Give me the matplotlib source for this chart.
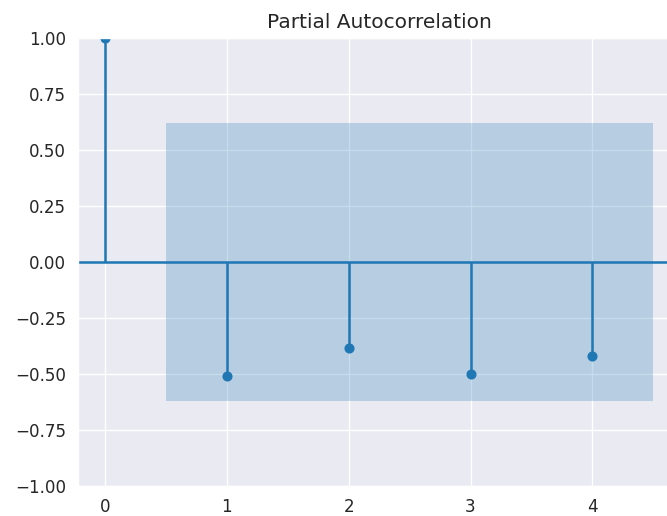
import numpy as np
import matplotlib
matplotlib.use('Agg')
import matplotlib.pyplot as plt
import seaborn as sns

# PACF 數值
lags = [0, 1, 2, 3, 4]
pacf_vals = [1.0, -0.507, -0.382, -0.501, -0.421]
conf_bound = 0.62   # 約 1.96/sqrt(10)

# 只設定 style，字體大小和顏色循環維持 matplotlib 預設
sns.set_style('darkgrid')

dpi = 121
fig = plt.figure(figsize=(667 / dpi, 516 / dpi), dpi=dpi)
# 原圖右側被裁掉，所以 axes 超出畫布
ax = fig.add_axes([0.1165, 0.058, 0.904, 0.869])

ax.vlines(lags, [0], pacf_vals, color='C0')
ax.plot(lags, pacf_vals, marker='o', markersize=5, linestyle='None', color='C0')
ax.axhline(0, color='C0')

# 信賴區間
band_x = np.array(lags[1:], dtype=float)
band_x[0] -= 0.5
band_x[-1] += 0.5
ax.fill_between(band_x, -conf_bound, conf_bound, alpha=0.25, color='C0', linewidth=0)

ax.set_xlim(-0.225, 4.725)
ax.set_ylim(-1, 1)
ax.set_yticks(np.arange(-1, 1.01, 0.25))
ax.set_xticks(lags)
ax.set_title('Partial Autocorrelation')

fig.savefig('out.png', dpi=dpi)
